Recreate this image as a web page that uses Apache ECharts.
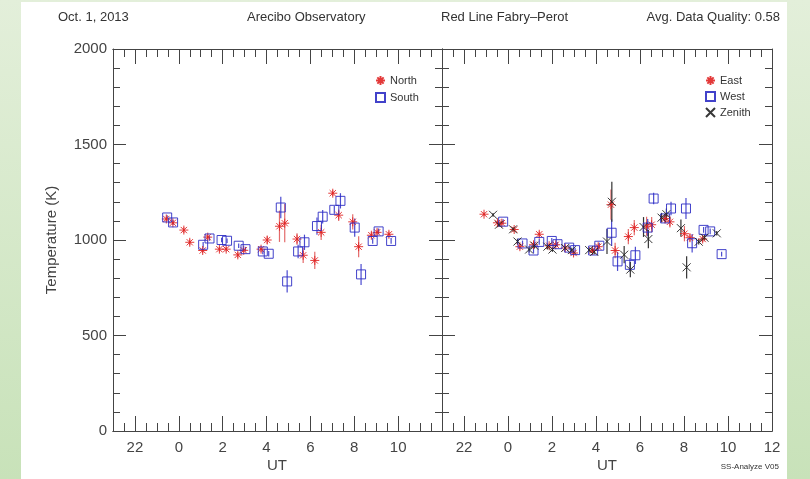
<!DOCTYPE html>
<html>
<head>
<meta charset="utf-8">
<script src="https://cdn.jsdelivr.net/npm/echarts@6/dist/echarts.min.js"></script>
<style>
  html, body { margin: 0; padding: 0; }
  body { width: 810px; height: 479px; background: linear-gradient(#e3efda, #c8e2b9); position: relative; }
  .sheet { position: absolute; left: 21px; top: 2px; width: 766px; height: 477px; background: #fff; }
  #chart { position: absolute; left: 0; top: 0; width: 810px; height: 479px; }
</style>
</head>
<body>
<div class="sheet"></div>
<div id="chart"></div>
<script>
  // North / South (left panel), UT hours (negative = previous day)
  var northX = [-0.57, -0.27, 0.23, 0.50, 1.09, 1.32, 1.85, 2.16, 2.69, 2.96, 3.75, 4.03, 4.59, 4.83, 5.39, 5.67, 6.20, 6.49, 7.02, 7.29, 7.93, 8.20, 8.78, 9.04, 9.58];
  var northT = [1110, 1090, 1052, 988, 945, 1015, 952, 952, 922, 946, 952, 1000, 1072, 1088, 1005, 920, 893, 1040, 1245, 1130, 1095, 965, 1025, 1040, 1030];
  var northErr = [12, 12, 15, 15, 15, 15, 12, 12, 15, 12, 15, 20, 82, 100, 30, 40, 45, 40, 15, 30, 40, 55, 15, 15, 15];

  var southX = [-0.53, -0.26, 1.11, 1.40, 1.95, 2.20, 2.73, 3.04, 3.83, 4.10, 4.65, 4.94, 5.44, 5.73, 6.30, 6.56, 7.09, 7.37, 8.02, 8.31, 8.84, 9.11, 9.68];
  var southT = [1118, 1092, 975, 1008, 1000, 996, 970, 952, 940, 928, 1170, 783, 940, 988, 1073, 1122, 1158, 1205, 1065, 820, 995, 1045, 995];
  var southErr = [12, 12, 15, 12, 12, 12, 12, 12, 15, 15, 56, 58, 35, 40, 45, 35, 20, 40, 48, 55, 15, 15, 15];

  // East / West / Zenith (right panel)
  var eastX = [-1.09, -0.48, -0.28, 0.28, 0.54, 1.16, 1.42, 1.87, 2.17, 2.60, 2.98, 3.84, 4.10, 4.68, 4.87, 5.47, 5.74, 6.30, 6.53, 7.14, 7.36, 8.02, 8.27, 8.85];
  var eastT = [1135, 1090, 1088, 1055, 965, 975, 1030, 970, 975, 958, 932, 945, 965, 1185, 945, 1018, 1065, 1072, 1080, 1112, 1095, 1033, 1012, 1005];
  var eastErr = [10, 12, 12, 12, 15, 15, 15, 12, 12, 12, 12, 12, 15, 79, 40, 40, 40, 50, 40, 25, 30, 40, 20, 15];

  var westX = [-0.22, 0.66, 1.16, 1.42, 1.99, 2.25, 2.78, 3.05, 3.87, 4.15, 4.71, 4.98, 5.54, 5.79, 6.35, 6.62, 7.14, 7.41, 8.09, 8.37, 8.89, 9.19, 9.71];
  var westT = [1096, 982, 945, 990, 995, 978, 960, 947, 945, 970, 1038, 888, 870, 920, 1065, 1217, 1113, 1165, 1165, 983, 1053, 1045, 926];
  var westErr = [12, 15, 15, 15, 15, 12, 12, 12, 12, 15, 70, 50, 35, 45, 45, 30, 20, 35, 55, 48, 15, 15, 12];

  var zenithX = [-0.68, -0.41, 0.23, 0.43, 0.96, 1.20, 1.79, 2.02, 2.60, 2.90, 3.69, 3.92, 4.50, 4.72, 5.28, 5.56, 6.16, 6.38, 6.98, 7.20, 7.86, 8.12, 8.67, 8.93, 9.49];
  var zenithT = [1132, 1080, 1056, 992, 950, 970, 965, 950, 958, 947, 947, 938, 992, 1200, 923, 845, 1068, 1005, 1117, 1135, 1062, 857, 991, 1012, 1035];
  var zenithErr = [10, 12, 12, 15, 15, 15, 15, 12, 12, 12, 12, 12, 65, 105, 45, 40, 52, 48, 25, 30, 45, 58, 15, 15, 12];

  var majorHours = [-2, 0, 2, 4, 6, 8, 10, 12];
  var leftLabels = [-2, 0, 2, 4, 6, 8, 10];
  var rightLabels = [-2, 0, 2, 4, 6, 8, 10, 12];

  var FONT = 'Liberation Sans';
  var AXIS = '#444';
  var STAR = 'path://M0,5L10,5M5,0L5,10M1.5,1.5L8.5,8.5M8.5,1.5L1.5,8.5';
  var CROSS = 'path://M0,0L10,10M10,0L0,10';

  var myChart = echarts.init(document.getElementById('chart'), null, { renderer: 'canvas' });

  function zip(xs, ys, es) {
    return xs.map(function (x, i) { return [x, ys[i], es[i]]; });
  }

  // 4 x axes per grid: bottom major, bottom minor, top major, top minor
  function xAxes(grid, labels) {
    var base = {
      type: 'value', gridIndex: grid, min: -3, max: 12,
      splitLine: { show: false },
      axisLine: { onZero: false, lineStyle: { color: AXIS, width: 1 } }
    };
    var out = [];
    ['bottom', 'top'].forEach(function (pos) {
      out.push(Object.assign({}, base, {
        position: pos,
        axisTick: { show: true, inside: true, length: 15, customValues: majorHours, lineStyle: { color: AXIS } },
        axisLabel: {
          show: pos === 'bottom', customValues: labels, margin: 9,
          color: '#444', fontSize: 15, fontFamily: FONT,
          formatter: function (v) { return v < 0 ? v + 24 : v; }
        }
      }));
      out.push(Object.assign({}, base, {
        position: pos, interval: 0.5,
        axisTick: { show: true, inside: true, length: 8, lineStyle: { color: AXIS } },
        axisLabel: { show: false }
      }));
    });
    return out;
  }

  // 2 y axes per grid: left, right
  function yAxes(grid, labels) {
    return ['left', 'right'].map(function (pos) {
      return {
        type: 'value', gridIndex: grid, position: pos, min: 0, max: 2000, interval: 500,
        splitLine: { show: false },
        axisLine: { show: true, onZero: false, lineStyle: { color: AXIS, width: 1 } },
        axisTick: { show: true, inside: true, length: 13, lineStyle: { color: AXIS } },
        minorTick: { show: true, splitNumber: 5, length: 7, lineStyle: { color: AXIS } },
        axisLabel: {
          show: labels && pos === 'left', margin: 6, color: '#444', fontSize: 15, fontFamily: FONT,
          formatter: function (v) { return String(v); }
        }
      };
    });
  }

  function marks(name, data, xi, yi, symbol, size, color) {
    return {
      name: name, type: 'scatter', xAxisIndex: xi, yAxisIndex: yi,
      data: data, symbol: symbol, symbolSize: size, z: 3,
      itemStyle: { color: symbol === 'rect' ? 'rgba(0,0,0,0)' : color, borderColor: color, borderWidth: 1, opacity: 0.9 },
      emphasis: { disabled: true }
    };
  }

  function bars(data, xi, yi, color) {
    return {
      type: 'custom', xAxisIndex: xi, yAxisIndex: yi, data: data, z: 2, silent: true,
      renderItem: function (params, api) {
        var x = api.value(0), y = api.value(1), e = api.value(2);
        var p1 = api.coord([x, y - e]), p2 = api.coord([x, y + e]);
        return { type: 'line', shape: { x1: p1[0], y1: p1[1], x2: p2[0], y2: p2[1] }, style: { stroke: color, lineWidth: 1.2 } };
      }
    };
  }

  var northData = zip(northX, northT, northErr);
  var southData = zip(southX, southT, southErr);
  var eastData = zip(eastX, eastT, eastErr);
  var westData = zip(westX, westT, westErr);
  var zenithData = zip(zenithX, zenithT, zenithErr);

  var RED = '#e02424', BLUE = '#2e2ec4', BLACK = '#222';

  var option = {
    backgroundColor: 'transparent',
    animation: false,
    grid: [
      { left: 113, top: 49, width: 329, height: 382 },
      { left: 442, top: 49, width: 330, height: 382 }
    ],
    xAxis: xAxes(0, leftLabels).concat(xAxes(1, rightLabels)),
    yAxis: yAxes(0, true).concat(yAxes(1, false)),
    legend: [
      {
        data: ['North', 'South'], left: 370, top: 70, orient: 'vertical',
        itemWidth: 9, itemHeight: 9, itemGap: 6,
        textStyle: { fontSize: 11, color: '#333', fontFamily: FONT }
      },
      {
        data: ['East', 'West', 'Zenith'], left: 700, top: 70, orient: 'vertical',
        itemWidth: 9, itemHeight: 9, itemGap: 5,
        textStyle: { fontSize: 11, color: '#333', fontFamily: FONT }
      }
    ],
    graphic: [
      { type: 'text', left: 58, top: 11, style: { text: 'Oct. 1, 2013', fontSize: 13, fill: '#333', fontFamily: FONT } },
      { type: 'text', left: 247, top: 11, style: { text: 'Arecibo Observatory', fontSize: 13, fill: '#333', fontFamily: FONT } },
      { type: 'text', left: 441, top: 11, style: { text: 'Red Line Fabry\u2013Perot', fontSize: 13, fill: '#333', fontFamily: FONT } },
      { type: 'text', right: 30, top: 11, style: { text: 'Avg. Data Quality: 0.58', fontSize: 13, fill: '#333', fontFamily: FONT } },
      { type: 'text', x: 52, y: 240, rotation: Math.PI / 2, style: { text: 'Temperature (K)', fontSize: 15, fill: '#444', fontFamily: FONT, align: 'center', verticalAlign: 'middle' } },
      { type: 'text', x: 277, y: 466, style: { text: 'UT', fontSize: 15, fill: '#444', fontFamily: FONT, align: 'center', verticalAlign: 'middle' } },
      { type: 'text', x: 607, y: 466, style: { text: 'UT', fontSize: 15, fill: '#444', fontFamily: FONT, align: 'center', verticalAlign: 'middle' } },
      { type: 'text', x: 779, y: 467, style: { text: 'SS-Analyze V05', fontSize: 8, fill: '#333', fontFamily: FONT, align: 'right', verticalAlign: 'middle' } }
    ],
    series: [
      bars(northData, 0, 0, '#e46a6a'),
      bars(southData, 0, 0, '#4a4ad0'),
      marks('North', northData, 0, 0, STAR, 9, RED),
      marks('South', southData, 0, 0, 'rect', 9, BLUE),
      bars(eastData, 4, 2, '#e46a6a'),
      bars(westData, 4, 2, '#4a4ad0'),
      bars(zenithData, 4, 2, '#333'),
      marks('East', eastData, 4, 2, STAR, 9, RED),
      marks('West', westData, 4, 2, 'rect', 9, BLUE),
      marks('Zenith', zenithData, 4, 2, CROSS, 8, BLACK)
    ]
  };

  myChart.setOption(option);
</script>
</body>
</html>
